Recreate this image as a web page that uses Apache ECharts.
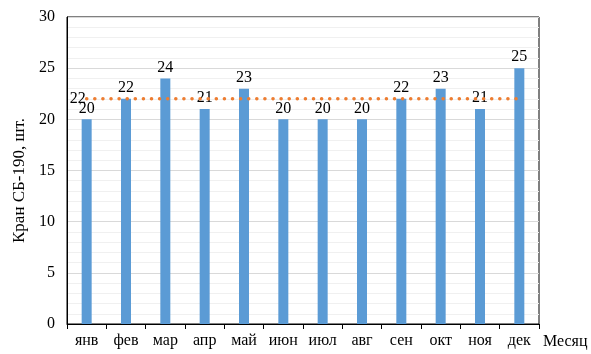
<!DOCTYPE html>
<html>
<head>
<meta charset="utf-8">
<script src="https://cdn.jsdelivr.net/npm/echarts@6/dist/echarts.min.js"></script>
<style>
  html, body { margin: 0; padding: 0; background: #fff; }
  #chart { width: 591px; height: 354px; }
</style>
</head>
<body>
<div id="chart"></div>
<script>
const months = ['янв', 'фев', 'мар', 'апр', 'май', 'июн', 'июл', 'авг', 'сен', 'окт', 'ноя', 'дек'];
const cranes = [20, 22, 24, 21, 23, 20, 20, 20, 22, 23, 21, 25];
const average = [22, 22, 22, 22, 22, 22, 22, 22, 22, 22, 22, 22];

const font = 'Liberation Serif';
const myChart = echarts.init(document.getElementById('chart'));

const option = {
  animation: false,
  textStyle: { fontFamily: font },
  grid: {
    left: 67, right: 52, top: 17, bottom: 30,
    show: true,
    borderColor: '#000',
    borderWidth: 1
  },
  xAxis: {
    type: 'category',
    data: months,
    name: 'Месяц',
    nameLocation: 'end',
    nameGap: 4,
    nameTextStyle: { color: '#000', fontSize: 16, fontFamily: font, verticalAlign: 'top', padding: [10, 0, 0, 0] },
    axisLine: { lineStyle: { color: '#000' } },
    axisTick: { show: true, length: 5, lineStyle: { color: '#000' } },
    axisLabel: { color: '#000', fontSize: 16, fontFamily: font, margin: 9 }
  },
  yAxis: {
    type: 'value',
    min: 0,
    max: 30,
    interval: 5,
    name: 'Кран СБ-190, шт.',
    nameLocation: 'middle',
    nameGap: 34,
    nameTextStyle: { color: '#000', fontSize: 17, fontFamily: font, padding: [0, 20, 0, 0] },
    axisLine: { show: true, lineStyle: { color: '#000' } },
    axisTick: { show: false },
    axisLabel: { color: '#000', fontSize: 16, fontFamily: font, margin: 12 },
    splitLine: { lineStyle: { color: '#d9d9d9' } },
    minorTick: { show: false, splitNumber: 5 },
    minorSplitLine: { show: true, lineStyle: { color: '#f0f0f0' } }
  },
  series: [
    {
      name: 'Кран',
      type: 'bar',
      data: cranes,
      barWidth: 10,
      itemStyle: { color: '#5B9BD5' },
      label: { show: true, position: 'top', color: '#000', fontSize: 16, fontFamily: font, distance: 3 }
    },
    {
      name: 'Среднее',
      type: 'line',
      data: average.map((v, i) => i === 0
        ? { value: v, label: { show: true } }
        : v),
      symbol: 'circle',
      symbolSize: 0,
      showSymbol: true,
      itemStyle: { color: '#ED7D31' },
      label: { show: false, position: 'left', distance: 1, color: '#000', fontSize: 16, fontFamily: font },
      lineStyle: { color: '#ED7D31', width: 3.5, type: [0.1, 8], cap: 'round' },
      z: 3
    }
  ]
};

option && myChart.setOption(option);
</script>
</body>
</html>
